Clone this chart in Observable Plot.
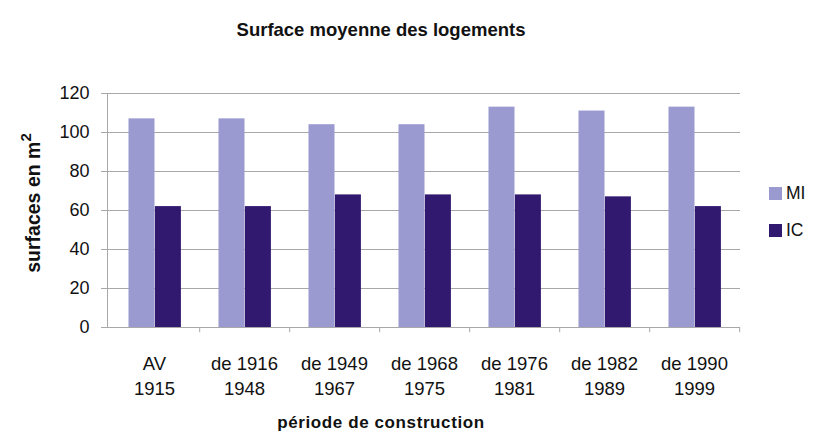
<!DOCTYPE html>
<html>
<head>
<meta charset="utf-8">
<script src="https://cdn.jsdelivr.net/npm/d3@7"></script>
<script src="https://cdn.jsdelivr.net/npm/@observablehq/plot@0.6"></script>
<style>
  html, body { margin: 0; padding: 0; background: #fff; }
  #wrap { position: relative; width: 813px; height: 441px; font-family: "Liberation Sans", Arial, sans-serif; color: #111; }
  #chart { position: absolute; left: 0; top: 0; }
  .title { position: absolute; left: 0; width: 762px; top: 19px; text-align: center; font-weight: bold; font-size: 18.5px; }
  .xlabel { position: absolute; left: 0; width: 762px; top: 413px; text-align: center; font-weight: bold; font-size: 17px; letter-spacing: 0.6px; }
  .ylabel { position: absolute; left: 32px; top: 203px; transform: translate(-50%, -50%) rotate(-90deg); white-space: nowrap; font-weight: bold; font-size: 19.5px; }
  .ylabel sup { font-size: 15px; position: relative; top: -2px; }
  .legend { position: absolute; left: 769px; top: 183px; font-size: 17.5px; }
  .legend div { display: flex; align-items: center; height: 20px; margin-bottom: 17px; }
  .legend span.sw { display: inline-block; width: 13px; height: 13px; margin-right: 4px; }
</style>
</head>
<body>
<div id="wrap">
  <div id="chart"></div>
  <div class="title">Surface moyenne des logements</div>
  <div class="ylabel">surfaces en m<sup>2</sup></div>
  <div class="xlabel">période de construction</div>
  <div class="legend" id="legend"></div>
</div>
<script>
const categories = ["AV 1915", "1916-1948", "1949-1967", "1968-1975", "1976-1981", "1982-1989", "1990-1999"];
const tickLabels = ["AV\n1915", "de 1916\n1948", "de 1949\n1967", "de 1968\n1975", "de 1976\n1981", "de 1982\n1989", "de 1990\n1999"];
const seriesNames = ["MI", "IC"];
const miValues = [107, 107, 104, 104, 113, 111, 113];
const icValues = [62, 62, 68, 68, 68, 67, 62];
const yTicks = [0, 20, 40, 60, 80, 100, 120];
const colors = ["#9a9ad0", "#30196e"];

const miRows = categories.map((c, i) => ({cat: c, series: "MI", value: miValues[i]}));
const icRows = categories.map((c, i) => ({cat: c, series: "IC", value: icValues[i]}));
const labelOf = new Map(categories.map((c, i) => [c, tickLabels[i]]));

const chart = Plot.plot({
  width: 813,
  height: 441,
  marginLeft: 107,
  marginRight: 73,
  marginTop: 93,
  marginBottom: 114,
  style: {fontFamily: "'Liberation Sans', Arial, sans-serif", color: "#111", background: "#fff"},
  x: {domain: categories, padding: 0},
  y: {domain: [0, 120]},
  marks: [
    Plot.gridY(yTicks.filter(d => d > 0), {stroke: "#a8a8a8", strokeOpacity: 1}),
    Plot.barY(miRows, {x: "cat", y: "value", fill: colors[0], insetLeft: 19.5, insetRight: 44.5}),
    Plot.barY(icRows, {x: "cat", y: "value", fill: colors[1], insetLeft: 45.9, insetRight: 18.1}),
    Plot.ruleY([0], {stroke: "#a8a8a8"}),
    Plot.frame({anchor: "left", stroke: "#a8a8a8"}),
    Plot.ruleX(categories, {x: d => d, dx: 45.2, y1: 0, y2: -2.7, stroke: "#a8a8a8"}),
    Plot.axisY(yTicks, {tickSize: 6, tickPadding: 12, fontSize: 18, stroke: "#a8a8a8", label: null}),
    Plot.axisX({tickSize: 0, tickPadding: 25, fontSize: 18.5, lineHeight: 1.33, tickFormat: d => labelOf.get(d), label: null})
  ]
});
document.getElementById("chart").appendChild(chart);

const legend = document.getElementById("legend");
seriesNames.forEach((name, i) => {
  const row = document.createElement("div");
  const sw = document.createElement("span");
  sw.className = "sw";
  sw.style.background = colors[i];
  row.appendChild(sw);
  row.appendChild(document.createTextNode(name));
  legend.appendChild(row);
});
</script>
</body>
</html>
